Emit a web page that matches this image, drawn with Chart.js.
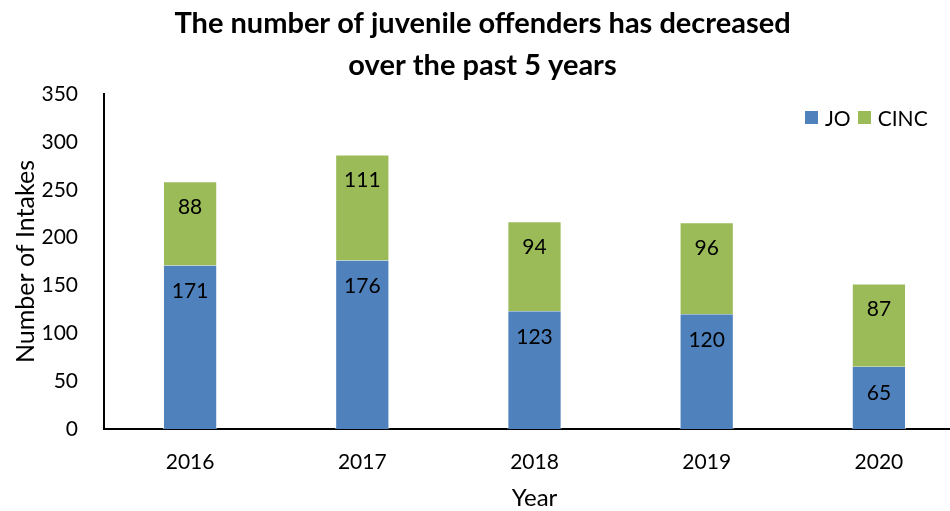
<!DOCTYPE html>
<html>
<head>
<meta charset="utf-8">
<title>Juvenile intakes</title>
<script src="https://cdn.jsdelivr.net/npm/chart.js@4"></script>
<style>
    html, body { margin: 0; padding: 0; background: #fff; overflow: hidden; }
    #wrap { position: relative; width: 965px; height: 511px; }
    #legend {
        position: absolute; top: 105px; left: 805px;
        font: 21px Lato, sans-serif; color: #000;
        display: flex; align-items: center; white-space: nowrap;
    }
    #legend span.box { display: inline-block; width: 13px; height: 13px; margin-right: 7px; }
    #legend span.item { display: inline-flex; align-items: center; margin-right: 7px; }
</style>
</head>
<body>
<div id="wrap">
    <canvas id="chart" width="965" height="511"></canvas>
    <div id="legend"></div>
</div>
<script>
const years = ['2016', '2017', '2018', '2019', '2020'];
const joValues = [171, 176, 123, 120, 65];
const cincValues = [88, 111, 94, 96, 87];
const seriesNames = ['JO', 'CINC'];
const seriesColors = ['#4F81BD', '#9BBB59'];
const yTicks = [0, 50, 100, 150, 200, 250, 300, 350];

const FONT = 'Lato, "Open Sans", sans-serif';

// value labels sit just inside the top of each stacked segment
const insideEndLabels = {
    id: 'insideEndLabels',
    afterDatasetsDraw(chart) {
        const ctx = chart.ctx;
        ctx.save();
        ctx.font = '21px ' + FONT;
        ctx.fillStyle = '#000';
        ctx.textAlign = 'center';
        ctx.textBaseline = 'middle';
        chart.data.datasets.forEach((ds, i) => {
            chart.getDatasetMeta(i).data.forEach((bar, j) => {
                ctx.fillText(String(ds.data[j]), bar.x, bar.y + 26);
            });
        });
        ctx.restore();
    }
};

const chart = new Chart(document.getElementById('chart'), {
    type: 'bar',
    data: {
        labels: years,
        datasets: [
            { label: seriesNames[0], data: joValues, backgroundColor: seriesColors[0],
              borderColor: 'rgba(255,255,255,0.6)', borderWidth: { left: 1, right: 1 } },
            { label: seriesNames[1], data: cincValues, backgroundColor: seriesColors[1],
              borderColor: 'rgba(255,255,255,0.6)', borderWidth: { left: 1, right: 1, top: 1 } }
        ]
    },
    options: {
        responsive: false,
        animation: false,
        layout: { padding: 0 },
        datasets: { bar: { barPercentage: 0.315, categoryPercentage: 1 } },
        plugins: {
            legend: { display: false },
            tooltip: { enabled: false },
            title: {
                display: true,
                text: ['The number of juvenile offenders has decreased', 'over the past 5 years'],
                color: '#000',
                font: { family: FONT, size: 29, weight: 'bold', lineHeight: 1.45 },
                padding: { top: 3, bottom: 7 }
            }
        },
        scales: {
            x: {
                stacked: true,
                grid: { display: false },
                border: { display: true, color: '#000', width: 2 },
                ticks: { color: '#000', font: { family: FONT, size: 21 }, padding: 13 },
                title: { display: true, text: 'Year', color: '#000',
                         font: { family: FONT, size: 24, lineHeight: 1.05 }, padding: { top: 0, bottom: 0 } },
                afterFit(scale) { scale.height = 82; }
            },
            y: {
                stacked: true,
                min: 0,
                max: 350,
                grid: { display: false },
                border: { display: true, color: '#000', width: 2 },
                afterBuildTicks(scale) { scale.ticks = yTicks.map(v => ({ value: v })); },
                ticks: { color: '#000', font: { family: FONT, size: 21 }, padding: 18 },
                title: { display: true, text: 'Number of Intakes', color: '#000',
                         font: { family: FONT, size: 25 }, padding: { top: 11, bottom: 0 } },
                afterFit(scale) { scale.width = 104; }
            }
        }
    },
    plugins: [insideEndLabels]
});

// legend built from the dataset labels and colours
document.getElementById('legend').innerHTML = chart.data.datasets.map(ds =>
    `<span class="item"><span class="box" style="background:${ds.backgroundColor}"></span>${ds.label}</span>`
).join('');
</script>
</body>
</html>
